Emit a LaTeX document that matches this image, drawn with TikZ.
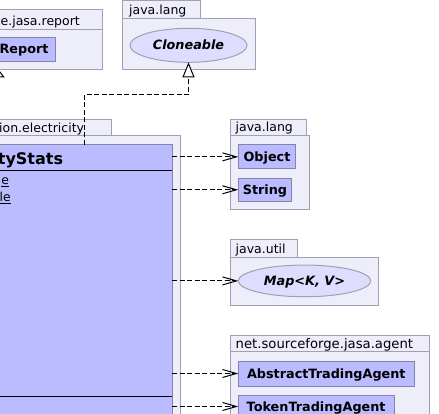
\documentclass[tikz,border=0pt]{standalone}
\usepackage{fontspec}
\setmainfont{DejaVu Sans}
\usetikzlibrary{arrows.meta,shapes.geometric,fit}
\definecolor{pkgfill}{RGB}{238,238,250}
\definecolor{pkgline}{RGB}{160,160,178}
\definecolor{clsfill}{RGB}{187,187,255}
\definecolor{clsline}{RGB}{132,132,170}
\definecolor{ifcfill}{RGB}{221,221,255}
\tikzset{
  pkgbox/.style={draw=pkgline, fill=pkgfill, line width=1pt, inner sep=0pt, outer sep=0pt},
  clsbox/.style={draw=clsline, fill=clsfill, line width=1pt, inner sep=0pt, outer sep=0pt,
    font=\fontsize{12.8}{15}\selectfont\bfseries, text height=9.2pt, text depth=0pt},
  ifcbox/.style={ellipse, draw=pkgline, fill=ifcfill, line width=1pt, inner sep=0pt, outer sep=0pt,
    font=\fontsize{12.8}{15}\selectfont\bfseries\itshape, text height=9.2pt, text depth=0pt},
  pkglabel/.style={inner sep=0pt, font=\fontsize{12.5}{15}\selectfont},
  dep/.style={line width=1pt, dash pattern=on 5pt off 2.5pt, -{Straight Barb[length=14pt,width=8pt,line width=1pt]}},
  real/.style={line width=1pt, dash pattern=on 5pt off 2.5pt, -{Triangle[length=15pt,width=12pt,fill=white,line width=1pt]}},
  gen/.style={line width=1pt, -{Triangle[length=8pt,width=12pt,fill=white,line width=1pt]}},
}
\begin{document}
\begin{tikzpicture}[x=1pt,y=-1pt]
\useasboundingbox (0,0) rectangle (439,414);
\clip (0,0) rectangle (439,414);
\fill[white] (0,0) rectangle (439,414);

% package ...jasa.report
\node[pkgbox, fit={(-20,10) (102,29.3)}] (reptab) {};
\node[pkgbox, fit={(-20,29.3) (102,69.3)}] (repbody) {};
\node[pkglabel, anchor=base east] (replbl) at (80,25.3) {e.jasa.report};
\node[clsbox, fit={(-20,37.3) (55,62)}] (rep) {};
\node[inner sep=0pt, font=\fontsize{12.8}{15}\selectfont\bfseries, anchor=base east] (replbl2) at (48.7,53.7) {Report};

% package java.lang (top)
\node[pkgbox, fit={(122,1) (200,18.3)}] (jl1tab) {};
\node[pkgbox, fit={(122,18.3) (255.7,69.3)}] (jl1body) {};
\node[pkglabel, anchor=base west] (jl1lbl) at (129,14.6) {java.lang};
\node[ifcbox, minimum width=117pt, minimum height=34pt] (clo) at (188.5,45.3) {Cloneable};

% package ...electricity
\node[pkgbox, fit={(-20,119.3) (111,136)}] (eltab) {};
\node[pkgbox, fit={(-20,136) (180,440)}] (elbody) {};
\node[pkglabel, anchor=base east] (ellbl) at (84.3,132.3) {tion.electricity};
\node[clsbox, fit={(-20,145) (172,440)}] (es) {};
\draw[line width=1pt] (es.west |- 0,171) -- (es.east |- 0,171);
\draw[line width=1pt] (es.west |- 0,396) -- (es.east |- 0,396);
\node[inner sep=0pt, font=\fontsize{16}{19}\selectfont\bfseries, anchor=base east] (esname) at (63.3,164.3) {tyStats};
\node[inner sep=0pt, font=\fontsize{12.3}{15}\selectfont, anchor=base east] (esa1) at (9.2,185) {e};
\node[inner sep=0pt, font=\fontsize{12.3}{15}\selectfont, anchor=base east] (esa2) at (10.8,201.7) {le};
\draw[line width=1pt] (esa1.base west |- 0,186.8) -- (esa1.base east |- 0,186.8);
\draw[line width=1pt] (esa2.base west |- 0,203.5) -- (esa2.base east |- 0,203.5);

% package java.lang (right)
\node[pkgbox, fit={(230,119.3) (306.7,136)}] (jl2tab) {};
\node[pkgbox, fit={(230,136) (309.3,209.3)}] (jl2body) {};
\node[pkglabel, anchor=base west] (jl2lbl) at (235.5,132) {java.lang};
\node[clsbox, minimum width=57.4pt, minimum height=23.7pt] (obj) at (267,156.85) {Object};
\node[clsbox, minimum width=53.4pt, minimum height=23pt] (str) at (265,189.8) {String};

% package java.util
\node[pkgbox, fit={(230,239.3) (297.7,257.3)}] (jutab) {};
\node[pkgbox, fit={(230,257.3) (378.3,305)}] (jubody) {};
\node[pkglabel, anchor=base west] (julbl) at (235.5,253.3) {java.util};
\node[ifcbox, minimum width=132.4pt, minimum height=31.7pt] (map) at (304.5,280.9) {Map<K, V>};

% package net.sourceforge.jasa.agent
\node[pkgbox, fit={(230,335) (429.3,351.7)}] (agtab) {};
\node[pkgbox, fit={(230,351.7) (429.3,440)}] (agbody) {};
\node[pkglabel, font=\fontsize{13.2}{15}\selectfont, anchor=base west] (aglbl) at (235.5,348) {net.sourceforge.jasa.agent};
\node[clsbox, minimum width=176pt, minimum height=25pt] (ata) at (326.3,373.5) {AbstractTradingAgent};
\node[clsbox, minimum width=155.7pt, minimum height=23pt] (tta) at (316.15,406.5) {TokenTradingAgent};

% realization to Cloneable
\coordinate (rstart) at (84.3,145);
\draw[real] (rstart) -- ++(0,-50) -| (clo.south);

% generalization to Report (mostly outside the view)
\coordinate (gstart) at (-1.5,119.3);
\draw[gen] (gstart) -- (gstart |- repbody.south);

% dependencies
\draw[dep] (obj.west -| es.east) -- (obj.west);
\draw[dep] (str.west -| es.east) -- (str.west);
\draw[dep] (map.west -| es.east) -- (map.west);
\draw[dep] (ata.west -| es.east) -- (ata.west);
\draw[dep] (tta.west -| es.east) -- (tta.west);
\end{tikzpicture}
\end{document}
